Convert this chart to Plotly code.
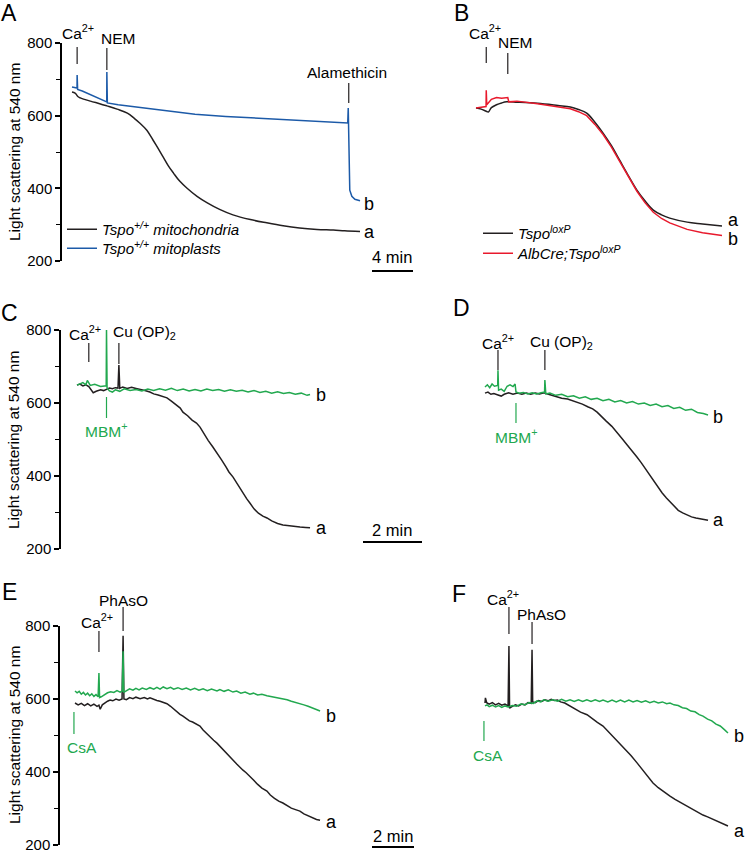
import plotly.graph_objects as go

W, H = 745, 853

# ---------------- data (time in min, light scattering at 540 nm) ----------------
# Panel A
a_mito_t = [0, 0.3, 0.6, 0.8, 1.8, 2.7, 3.4, 4.4, 5.4, 6.1, 6.6, 7.3, 7.9, 8.4, 8.9, 9.4, 9.9, 10.5,
            11.2, 12.2, 13.2, 14.4, 15.7, 17.4, 19.0, 20.6, 22.2, 23.9, 25.5, 26.6, 28.1]
a_mito_v = [665, 662, 652, 649, 640, 633, 627, 618, 607, 592, 580, 560, 533, 510, 486, 462, 442, 420,
            401, 378, 360, 342, 327, 314, 305, 297, 291, 287, 285, 283, 281]
a_plast_t = [0, 0.3, 0.49, 0.5, 0.55, 1.0, 2.0, 3.0, 3.39, 3.4, 3.45, 4.5, 6, 8, 9.4, 12, 15, 18, 21, 24,
             26.9, 26.95, 27.0, 27.05, 27.1, 27.3, 27.6, 28.1]
a_plast_v = [679, 677, 676, 712, 672, 668, 655, 643, 638, 720, 635, 630, 625, 618, 612, 604, 598, 593, 590, 585,
             580, 621, 560, 460, 395, 378, 370, 366]

# Panel B
b_ctrl_t = [0, 0.5, 1.0, 1.2, 1.5, 2.0, 2.5, 3.0, 4.0, 6.0, 8.0, 9.2, 10.0, 10.8, 11.6, 12.4, 13.2, 14.0,
            14.8, 15.7, 16.5, 17.3, 18.1, 18.9, 20.6, 22.1, 24.0]
b_ctrl_v = [621, 618, 612, 610, 622, 630, 635, 638, 637, 634, 628, 624, 617, 607, 582, 552, 518, 478,
            438, 395, 365, 340, 327, 318, 307, 302, 296]
b_ko_t = [0, 0.9, 0.98, 1.0, 1.05, 1.5, 2.0, 2.5, 3.1, 3.2, 4.0, 6.0, 8.0, 9.2, 10.0, 10.8, 11.6, 12.4,
          13.2, 14.0, 14.8, 15.7, 16.5, 17.3, 18.1, 18.9, 20.6, 22.1, 24.0]
b_ko_v = [621, 624, 625, 670, 630, 645, 650, 648, 650, 638, 640, 633, 625, 619, 611, 600, 576, 548,
          514, 474, 434, 392, 360, 334, 317, 305, 287, 278, 270]

# Panel C
c_ctrl_t = [0, 0.1, 0.2, 0.3, 0.4, 0.5, 0.55, 0.65, 0.8, 0.9, 1.0, 1.1, 1.2, 1.3, 1.39, 1.42, 1.45, 1.55,
            1.7, 1.85, 2.0, 2.15, 2.3, 2.47, 2.6, 2.75, 2.9, 3.05, 3.2, 3.35, 3.5, 3.59, 3.75, 3.9, 4.05,
            4.17, 4.3, 4.45, 4.6, 4.75, 4.9, 5.05, 5.15, 5.29, 5.45, 5.6, 5.75, 5.86, 6.0, 6.15, 6.3,
            6.44, 6.6, 6.8, 6.98, 7.2, 7.4, 7.56, 7.75, 7.9]
c_ctrl_v = [649, 652, 647, 650, 645, 633, 628, 632, 636, 634, 638, 641, 639, 642, 641, 704, 640, 644,
            640, 643, 640, 638, 634, 630, 625, 622, 617, 614, 605, 596, 586, 575, 565, 553, 545,
            534, 515, 497, 480, 463, 444, 425, 411, 397, 376, 356, 338, 326, 310, 298, 290,
            285, 277, 270, 266, 264, 261, 260, 259, 258]
c_mbm_t = [0, 0.1, 0.2, 0.3, 0.35, 0.45, 0.6, 0.8, 0.99, 1.0, 1.02, 1.1, 1.2, 1.3, 1.45, 1.6, 1.8, 2.0,
           2.2, 2.4, 2.6, 2.8, 3.0, 3.2, 3.4, 3.6, 3.8, 4.0, 4.2, 4.4, 4.6, 4.8, 5.0, 5.2, 5.4, 5.6,
           5.8, 6.0, 6.2, 6.4, 6.6, 6.8, 7.0, 7.2, 7.4, 7.6, 7.8, 7.9]
c_mbm_v = [649, 652, 656, 650, 662, 648, 651, 645, 647, 800, 641, 633, 630, 636, 632, 639, 634, 637,
           633, 638, 634, 639, 635, 640, 634, 638, 633, 637, 633, 638, 634, 637, 632, 636, 632, 635,
           630, 634, 629, 632, 627, 631, 626, 629, 624, 627, 621, 623]

# Panel D
d_ctrl_t = [0, 0.1, 0.2, 0.3, 0.44, 0.55, 0.65, 0.8, 0.95, 1.1, 1.25, 1.4, 1.55, 1.7, 1.85, 2.0, 2.15,
            2.3, 2.44, 2.6, 2.8, 3.0, 3.12, 3.3, 3.5, 3.65, 3.8, 3.95, 4.1, 4.3, 4.47, 4.65, 4.8, 5.0,
            5.15, 5.3, 5.45, 5.6, 5.7, 5.85, 6.0, 6.15, 6.27, 6.4, 6.55, 6.7, 6.85, 7.0, 7.15, 7.3,
            7.39, 7.5, 7.56]
d_ctrl_v = [627, 630, 624, 626, 622, 619, 624, 628, 624, 627, 624, 627, 624, 627, 625, 628, 624,
            620, 616, 613, 611, 606, 603, 597, 589, 584, 575, 562, 551, 536, 518, 502, 487, 468,
            452, 436, 418, 400, 389, 370, 354, 340, 329, 318, 306, 299, 293, 288, 285, 283,
            282, 280, 279]
d_mbm_t = [0, 0.08, 0.16, 0.24, 0.32, 0.43, 0.44, 0.46, 0.55, 0.65, 0.75, 0.85, 0.95, 1.02, 1.05, 1.15,
           1.3, 1.45, 1.6, 1.75, 1.9, 2.02, 2.03, 2.06, 2.2, 2.4, 2.6, 2.8, 3.0, 3.2, 3.4, 3.6, 3.8,
           4.0, 4.2, 4.4, 4.6, 4.8, 5.0, 5.2, 5.4, 5.6, 5.8, 6.0, 6.2, 6.4, 6.6, 6.8, 7.0, 7.2, 7.4,
           7.56]
d_mbm_v = [644, 650, 642, 652, 646, 648, 690, 635, 638, 632, 646, 650, 645, 652, 630, 627,
           629, 625, 628, 625, 628, 630, 663, 625, 627, 621, 624, 617, 620, 613, 617, 610, 613,
           606, 610, 603, 607, 600, 604, 597, 600, 593, 597, 590, 593, 585, 588, 580, 583, 574, 571,
           567]

# Panel E
e_ctrl_t = [0, 0.15, 0.3, 0.45, 0.6, 0.75, 0.9, 1.05, 1.14, 1.2, 1.3, 1.43, 1.55, 1.67, 1.8, 1.95, 2.1,
            2.24, 2.29, 2.33, 2.45, 2.6, 2.76, 2.9, 3.1, 3.3, 3.45, 3.57, 3.75, 3.9, 4.05, 4.2, 4.38,
            4.55, 4.7, 4.85, 5.0, 5.14, 5.3, 5.45, 5.6, 5.8, 5.95, 6.1, 6.3, 6.5, 6.6, 6.76, 6.9, 7.05,
            7.2, 7.35, 7.52, 7.7, 7.85, 8.0, 8.15, 8.33, 8.5, 8.7, 8.9, 9.14, 9.3, 9.5, 9.7, 9.9,
            10.1, 10.3, 10.5, 10.71, 10.9, 11.1, 11.3, 11.5, 11.67]
e_ctrl_v = [589, 584, 588, 582, 587, 581, 586, 580, 583, 572, 584, 590, 594, 597, 595, 600, 597,
            600, 773, 600, 598, 604, 601, 605, 601, 604, 600, 603, 598, 596, 594, 591, 587,
            580, 572, 566, 558, 553, 545, 540, 537, 530, 526, 515, 503, 493, 487, 479, 470, 462,
            452, 443, 433, 422, 412, 405, 398, 389, 378, 366, 356, 348, 337, 328, 320, 315,
            308, 301, 297, 293, 285, 280, 275, 270, 268]
e_csa_t = [0, 0.1, 0.2, 0.3, 0.4, 0.5, 0.6, 0.7, 0.8, 0.9, 1.0, 1.1, 1.14, 1.17, 1.25, 1.4, 1.55, 1.7,
           1.85, 2.0, 2.15, 2.25, 2.29, 2.32, 2.45, 2.6, 2.76, 2.9, 3.05, 3.2, 3.4, 3.57, 3.75, 3.9,
           4.05, 4.2, 4.38, 4.55, 4.7, 4.9, 5.1, 5.3, 5.5, 5.7, 5.9, 6.1, 6.3, 6.5, 6.76, 6.9, 7.1,
           7.3, 7.52, 7.7, 7.9, 8.1, 8.33, 8.5, 8.7, 8.9, 9.14, 9.3, 9.5, 9.7, 9.9, 10.1, 10.3, 10.5,
           10.71, 10.9, 11.1, 11.3, 11.5, 11.67]
e_csa_v = [622, 617, 621, 613, 618, 611, 616, 609, 614, 607, 612, 606, 671, 604, 606, 612, 617, 620,
           618, 623, 619, 622, 731, 618, 623, 628, 624, 629, 625, 630, 626, 631, 627, 632,
           627, 633, 628, 632, 627, 631, 626, 630, 625, 629, 624, 628, 623, 627, 622, 626, 621,
           625, 619, 622, 616, 619, 613, 616, 611, 613, 609, 607, 605, 604, 600, 598, 594, 591,
           588, 584, 580, 576, 571, 567]

# Panel F
f_ctrl_t = [0, 0.02, 0.08, 0.2, 0.35, 0.5, 0.65, 0.8, 0.95, 1.1, 1.14, 1.17, 1.3, 1.45, 1.6, 1.75, 1.9,
            2.05, 2.2, 2.24, 2.27, 2.4, 2.55, 2.7, 2.85, 3.0, 3.15, 3.3, 3.45, 3.6, 3.8, 4.05, 4.3,
            4.55, 4.86, 5.1, 5.35, 5.62, 5.85, 6.1, 6.43, 6.7, 6.95, 7.24, 7.5, 7.75, 8.0, 8.25, 8.5,
            8.81, 9.05, 9.35, 9.62, 9.9, 10.15, 10.38, 10.6, 10.85, 11.1, 11.35, 11.57]
f_ctrl_v = [589, 603, 590, 586, 590, 584, 588, 583, 586, 581, 745, 575, 580, 584, 581, 586, 584,
            590, 588, 735, 592, 590, 596, 593, 598, 595, 599, 596, 597, 592, 589, 581, 572,
            564, 557, 546, 536, 526, 512, 498, 479, 462, 445, 425, 407, 388, 370, 357, 346,
            334, 325, 315, 307, 298, 290, 282, 277, 270, 265, 258, 252]
f_csa_t = [0, 0.1, 0.2, 0.35, 0.5, 0.65, 0.8, 0.95, 1.1, 1.3, 1.5, 1.7, 1.9, 2.1, 2.3, 2.48, 2.65, 2.8,
           3.0, 3.24, 3.45, 3.65, 3.85, 4.05, 4.25, 4.45, 4.65, 4.85, 5.05, 5.25, 5.45, 5.62, 5.85,
           6.05, 6.25, 6.45, 6.65, 6.85, 7.05, 7.24, 7.45, 7.65, 7.85, 8.05, 8.25, 8.45, 8.65, 8.81,
           9.0, 9.2, 9.4, 9.6, 9.8, 10.0, 10.2, 10.38, 10.6, 10.8, 11.0, 11.2, 11.4, 11.57]
f_csa_v = [581, 584, 579, 583, 578, 582, 577, 581, 578, 582, 580, 586, 584, 590, 588, 595, 592, 598,
           594, 598, 594, 599, 594, 598, 593, 598, 593, 598, 593, 598, 593, 597, 592,
           597, 592, 597, 592, 597, 592, 596, 591, 595, 590, 594, 589, 592, 587, 589,
           584, 582, 576, 574, 567, 565, 557, 553, 545, 540, 531, 526, 516, 507]

y_ticks = [200, 400, 600, 800]
y_minor = [300, 500, 700]

# event times (min)
evt_A = {"ca": 0.5, "nem": 3.4, "ala": 27.0}
evt_B = {"ca": 1.0, "nem": 3.1}
evt_C = {"ca": 0.4, "mbm": 1.0, "cu": 1.42}
evt_D = {"ca": 0.44, "mbm": 1.05, "cu": 2.03}
evt_E = {"csa": -0.05, "ca": 1.14, "phaso": 2.29}
evt_F = {"csa": -0.05, "ca": 1.14, "phaso": 2.24}

# ---------------- styling ----------------
BLACK = "#231f20"
BLUE = "#1c5aa8"
RED = "#e8192c"
GREEN = "#22a84f"
FONT = "Liberation Sans, Arial, sans-serif"


def px(x):
    return x / W


def py(y):
    return 1 - y / H


fig = go.Figure()

LW = 1.5


def add(t, v, color, ax, name=None, legend=None, shape="linear"):
    fig.add_trace(go.Scatter(
        x=t, y=v, mode="lines", line=dict(color=color, width=LW, shape=shape),
        xaxis="x" + ax, yaxis="y" + ax, name=name or "",
        showlegend=name is not None, legend=legend or "legend",
        hoverinfo="skip"))


add(a_mito_t, a_mito_v, BLACK, "", "<i>Tspo<sup>+/+</sup> mitochondria</i>", "legend", "spline")
add(a_plast_t, a_plast_v, BLUE, "", "<i>Tspo<sup>+/+</sup> mitoplasts</i>", "legend2")
add(b_ctrl_t, b_ctrl_v, BLACK, "2", "<i>Tspo<sup>loxP</sup></i>", "legend3", "spline")
add(b_ko_t, b_ko_v, RED, "2", "<i>AlbCre;Tspo<sup>loxP</sup></i>", "legend4")
add(c_ctrl_t, c_ctrl_v, BLACK, "3")
add(c_mbm_t, c_mbm_v, GREEN, "3")
add(d_ctrl_t, d_ctrl_v, BLACK, "4")
add(d_mbm_t, d_mbm_v, GREEN, "4")
add(e_ctrl_t, e_ctrl_v, BLACK, "5")
add(e_csa_t, e_csa_v, GREEN, "5")
add(f_ctrl_t, f_ctrl_v, BLACK, "6")
add(f_csa_t, f_csa_v, GREEN, "6")

# panel geometry: (x-domain px, t=0 px, px per min, y px of 800, y px of 200, show y axis)
panels = {
    "":  ((62, 380), 72, 10.25, 43, 261, True),
    "2": ((470, 742), 476, 10.25, 43, 261, False),
    "3": ((61, 380), 77, 29.5, 330, 549, True),
    "4": ((470, 742), 485, 29.5, 330, 549, False),
    "5": ((60, 380), 75, 21.0, 626, 845, True),
    "6": ((470, 745), 485, 21.0, 626, 845, False),
}

layout = dict(
    template="none",
    width=W, height=H, margin=dict(l=0, r=0, t=0, b=0, pad=0, autoexpand=False),
    paper_bgcolor="white", plot_bgcolor="rgba(0,0,0,0)",
    font=dict(family=FONT, color="black", size=15),
)
for k, (xd, x0, s, y800, y200, showy) in panels.items():
    layout["xaxis" + k] = dict(
        domain=[px(xd[0]), px(xd[1])],
        range=[(xd[0] - x0) / s, (xd[1] - x0) / s],
        visible=False, anchor="y" + k, fixedrange=True, automargin=False)
    yax = dict(
        domain=[py(y200), py(y800)], range=[200, 800], anchor="x" + k,
        showgrid=False, zeroline=False, fixedrange=True, automargin=False)
    if showy:
        yax.update(
            showline=True, linecolor="black", linewidth=1.5,
            ticks="outside", ticklen=5, tickwidth=1.5, tickcolor="black",
            tickvals=y_ticks, ticktext=[str(v) for v in y_ticks],
            ticklabeloverflow="allow",
            tickfont=dict(size=15, family=FONT, color="black"),
            minor=dict(tickvals=y_minor, ticks="outside", ticklen=4, tickwidth=1.3,
                       tickcolor="black", showgrid=False))
    else:
        yax.update(visible=False)
    layout["yaxis" + k] = yax


def leg(x, ytop):
    return dict(x=px(x), y=py(ytop), xanchor="left", yanchor="top",
                bgcolor="rgba(0,0,0,0)", font=dict(size=15, family=FONT),
                itemwidth=30, tracegroupgap=0, borderwidth=0)


layout["legend"] = leg(62, 213)
layout["legend2"] = leg(62, 232)
layout["legend3"] = leg(478, 217)
layout["legend4"] = leg(478, 237)
fig.update_layout(**layout)

shapes = []
annots = []


def marker(ax, t, ytop, ybot, color=BLACK):
    shapes.append(dict(type="line", xref="x" + ax, yref="paper", x0=t, x1=t,
                       y0=py(ytop), y1=py(ybot), line=dict(color=color, width=1.2)))


def label(ax, t, y, text, color="black", size=15.5, xanchor="center"):
    annots.append(dict(xref="x" + ax, yref="paper", x=t, y=py(y), text=text, showarrow=False,
                       xanchor=xanchor, yanchor="middle",
                       font=dict(size=size, color=color, family=FONT)))


def ptext(x, y, text, size=15, angle=0, color="black"):
    annots.append(dict(xref="paper", yref="paper", x=px(x), y=py(y), text=text, showarrow=False,
                       xanchor="center", yanchor="middle", textangle=angle,
                       font=dict(size=size, color=color, family=FONT)))


CA = "Ca<sup>2+</sup>"
# Panel A
marker("", evt_A["ca"], 47, 64)
marker("", evt_A["nem"], 48, 70)
marker("", evt_A["ala"], 83, 103)
label("", 0.6, 32, CA)
label("", 4.5, 38, "NEM")
label("", 26.8, 72, "Alamethicin")
# Panel B
marker("2", evt_B["ca"], 47, 63)
marker("2", evt_B["nem"], 53, 74)
label("2", 0.9, 32, CA)
label("2", 3.8, 43, "NEM")
# Panel C
marker("3", evt_C["ca"], 343, 362)
marker("3", evt_C["cu"], 343, 364)
marker("3", evt_C["mbm"], 397, 418, GREEN)
label("3", 0.27, 333, CA)
label("3", 2.3, 333, "Cu (OP)<sub>2</sub>")
label("3", 1.0, 430, "MBM<sup>+</sup>", GREEN)
# Panel D
marker("4", evt_D["ca"], 350, 370)
marker("4", evt_D["cu"], 350, 370)
marker("4", evt_D["mbm"], 403, 423, GREEN)
label("4", 0.44, 342, CA)
label("4", 2.6, 342, "Cu (OP)<sub>2</sub>")
label("4", 1.08, 436, "MBM<sup>+</sup>", GREEN)
# Panel E
marker("5", evt_E["csa"], 712, 734, GREEN)
marker("5", evt_E["ca"], 631, 652)
marker("5", evt_E["phaso"], 607, 631)
label("5", 0.35, 747, "CsA", GREEN)
label("5", 1.05, 621, CA)
label("5", 2.3, 600, "PhAsO")
# Panel F
marker("6", evt_F["csa"], 721, 741, GREEN)
marker("6", evt_F["ca"], 607, 634)
marker("6", evt_F["phaso"], 622, 644)
label("6", 0.15, 755, "CsA", GREEN)
label("6", 0.86, 598, CA)
label("6", 2.7, 614, "PhAsO")

# a / b trace labels
for x, y, t in [(369, 204, "b"), (369, 232, "a"), (733, 220, "a"), (733, 239, "b"),
                (321, 395, "b"), (321, 528, "a"), (718, 417, "b"), (718, 520, "a"),
                (331, 716, "b"), (331, 822, "a"), (739, 736, "b"), (739, 831, "a")]:
    ptext(x, y, t, size=18)

# panel letters
for x, y, t in [(9, 13, "A"), (461, 13, "B"), (9, 313, "C"), (461, 308, "D"),
                (9, 592, "E"), (459, 594, "F")]:
    ptext(x, y, t, size=23)

# y axis titles
for yc in [152, 440, 735]:
    ptext(14, yc, "Light scattering at 540 nm", size=15.5, angle=-90)

# scale bars
for (xa, xb, yb, yt, txt) in [(372, 413, 271, 257, "4 min"), (363, 422, 542, 530, "2 min"),
                              (372, 414, 847, 836, "2 min")]:
    shapes.append(dict(type="line", xref="paper", yref="paper", x0=px(xa), x1=px(xb),
                       y0=py(yb), y1=py(yb), line=dict(color="black", width=2)))
    ptext((xa + xb) / 2, yt, txt, size=16.5)

fig.update_layout(shapes=shapes, annotations=annots)
fig.write_html("out.html", config={"displayModeBar": False},
               post_script="document.body.style.margin='0';")
